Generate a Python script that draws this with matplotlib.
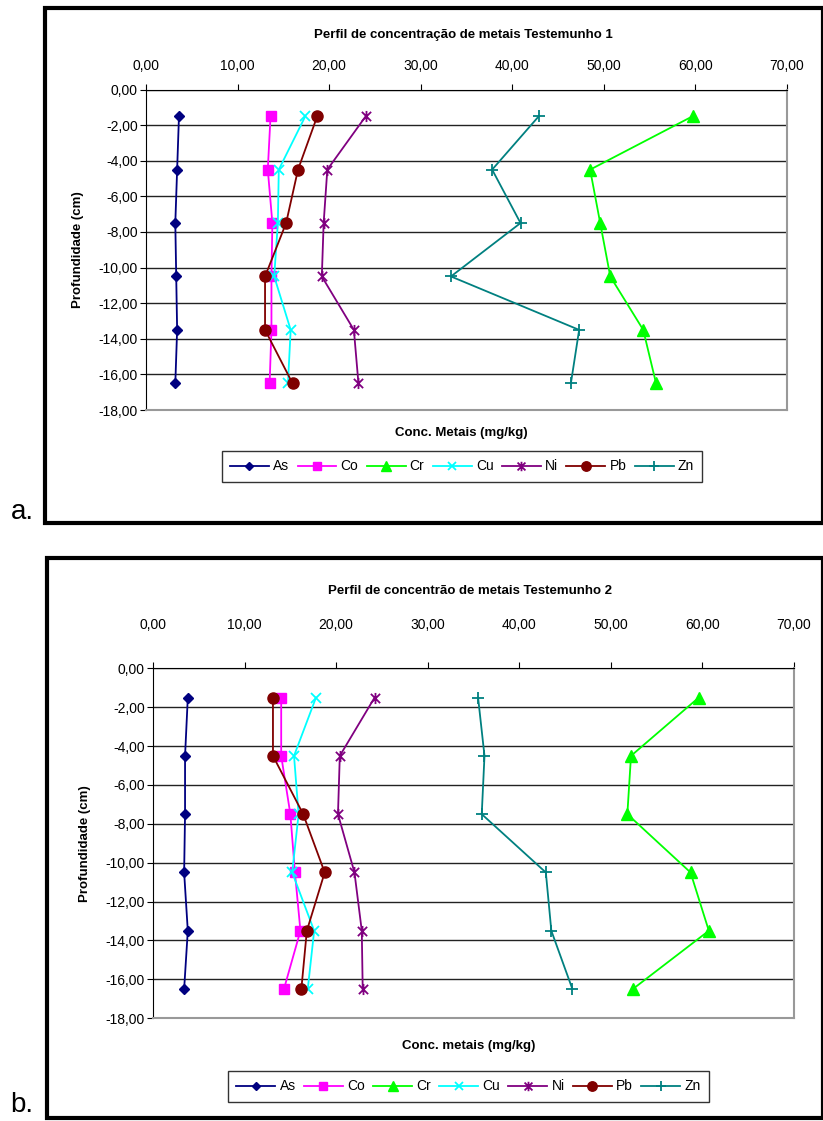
import matplotlib.pyplot as plt
from matplotlib.patches import Rectangle
from matplotlib.path import Path
from matplotlib.ticker import FuncFormatter, MultipleLocator

plt.rcParams['font.family'] = ['Liberation Sans', 'DejaVu Sans']

# profundidade (cm)
depth = [-1.5, -4.5, -7.5, -10.5, -13.5, -16.5]

# Testemunho 1 (mg/kg)
as_1 = [3.6, 3.4, 3.2, 3.3, 3.4, 3.2]
co_1 = [13.6, 13.3, 13.8, 13.7, 13.7, 13.5]
cr_1 = [59.7, 48.5, 49.6, 50.7, 54.3, 55.7]
cu_1 = [17.4, 14.5, 14.4, 14.0, 15.8, 15.5]
ni_1 = [24.0, 19.8, 19.4, 19.2, 22.7, 23.2]
pb_1 = [18.7, 16.6, 15.3, 13.0, 13.0, 16.0]
zn_1 = [42.9, 37.8, 40.9, 33.3, 47.3, 46.4]

# Testemunho 2 (mg/kg)
as_2 = [3.8, 3.5, 3.5, 3.4, 3.8, 3.4]
co_2 = [14.0, 14.0, 15.0, 15.5, 16.1, 14.3]
cr_2 = [59.6, 52.2, 51.8, 58.7, 60.7, 52.4]
cu_2 = [17.8, 15.4, 15.9, 15.2, 17.6, 16.9]
ni_2 = [24.2, 20.4, 20.2, 22.0, 22.8, 22.9]
pb_2 = [13.1, 13.1, 16.4, 18.75, 16.8, 16.2]
zn_2 = [35.5, 36.2, 35.9, 42.9, 43.5, 45.8]

# marcador "estrela" do Excel: x com traço vertical
estrela = Path([(-1, -1), (1, 1), (-1, 1), (1, -1), (0, -1.2), (0, 1.2)],
               [Path.MOVETO, Path.LINETO, Path.MOVETO, Path.LINETO, Path.MOVETO, Path.LINETO])

nomes = ['As', 'Co', 'Cr', 'Cu', 'Ni', 'Pb', 'Zn']
cores = ['#000080', '#FF00FF', '#00FF00', '#00FFFF', '#800080', '#800000', '#008080']
marcas = ['D', 's', '^', 'x', estrela, 'o', '+']
tamanhos = [5, 7, 8, 7, 8, 8, 8]

W, H = 823, 1121
fig = plt.figure(figsize=(W / 100, H / 100), dpi=100)


def fx(px):
    return px / W


def fy(py):
    return 1 - py / H


def virgula(v, pos):
    return ('%.2f' % v).replace('.', ',')


def grafico(box, ax_px, series, titulo, xlabel, title_y, xlab_y, ylab_x, leg_box, letra, letra_y, xpad):
    # moldura externa
    x0, y0, x1, y1 = box
    fig.patches.append(Rectangle((fx(x0), fy(y1)), fx(x1) - fx(x0), fy(y0) - fy(y1),
                                 transform=fig.transFigure, fill=False,
                                 edgecolor='black', linewidth=3))
    fig.text(fx(22), fy(letra_y), letra, fontsize=20, ha='center', va='center')

    l, t, r, b = ax_px
    ax = fig.add_axes([fx(l), fy(b), fx(r) - fx(l), fy(t) - fy(b)])
    for i, vals in enumerate(series):
        fino = marcas[i] in ('x', '+') or isinstance(marcas[i], Path)
        ax.plot(vals, depth, color=cores[i], marker=marcas[i], markersize=tamanhos[i],
                markeredgewidth=1.3 if fino else 1, linewidth=1.3, label=nomes[i])
    ax.set_xlim(0, 70)
    ax.set_ylim(-18, 0)
    ax.xaxis.set_major_locator(MultipleLocator(10))
    ax.yaxis.set_major_locator(MultipleLocator(2))
    ax.xaxis.set_major_formatter(FuncFormatter(virgula))
    ax.yaxis.set_major_formatter(FuncFormatter(virgula))
    ax.xaxis.tick_top()
    ax.tick_params(axis='x', direction='out', length=4, pad=xpad, labelsize=10)
    ax.tick_params(axis='y', direction='out', length=4, pad=2, labelsize=10)
    ax.grid(axis='y', color='#222222', linewidth=1)
    ax.set_axisbelow(True)
    ax.spines['left'].set_color('black')
    ax.spines['top'].set_color('black')
    ax.spines['right'].set_color('#999999')
    ax.spines['bottom'].set_color('#999999')
    ax.spines['right'].set_linewidth(1.5)
    ax.spines['bottom'].set_linewidth(1.5)

    fig.text(fx((l + r) / 2 - 3), fy(title_y), titulo, fontsize=9.5, fontweight='bold',
             ha='center', va='center')
    fig.text(fx((l + r) / 2 - 5), fy(xlab_y), xlabel, fontsize=9.5, fontweight='bold',
             ha='center', va='center')
    fig.text(fx(ylab_x), fy((t + b) / 2), 'Profundidade (cm)', fontsize=9.5, fontweight='bold',
             rotation=90, ha='center', va='center')

    lx0, ly0, lx1, ly1 = leg_box
    leg = fig.legend(*ax.get_legend_handles_labels(), loc='center', ncol=7,
                     bbox_to_anchor=(fx((lx0 + lx1) / 2), fy((ly0 + ly1) / 2)),
                     fontsize=10, frameon=True, fancybox=False, handlelength=2.8,
                     handletextpad=0.3, columnspacing=0.6, borderpad=0.6, markerscale=0.85)
    leg.get_frame().set_edgecolor('black')
    leg.get_frame().set_linewidth(1)
    return ax


grafico((45, 8, 823, 523), (146, 89.5, 787, 410),
        [as_1, co_1, cr_1, cu_1, ni_1, pb_1, zn_1],
        'Perfil de concentração de metais Testemunho 1', 'Conc. Metais (mg/kg)',
        35, 433, 78, (243, 452, 681, 481), 'a.', 512, 8)

grafico((47, 558, 823, 1118), (153, 668.4, 794, 1018.2),
        [as_2, co_2, cr_2, cu_2, ni_2, pb_2, zn_2],
        'Perfil de concentrão de metais Testemunho 2', 'Conc. metais (mg/kg)',
        591, 1046, 85, (237, 1073, 700, 1100), 'b.', 1105, 22)

fig.savefig('out.png', dpi=100)
